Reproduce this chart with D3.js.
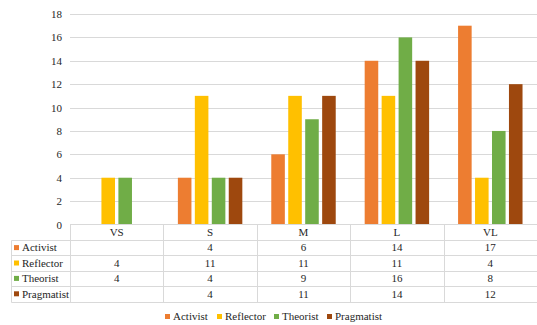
<!DOCTYPE html>
<html>
<head>
<meta charset="utf-8">
<script src="https://cdn.jsdelivr.net/npm/d3@7"></script>
<style>
  html, body { margin: 0; padding: 0; background: #fff; }
  svg text { font-family: 'Liberation Serif', 'Times New Roman', 'DejaVu Serif', serif; }
</style>
</head>
<body>
<svg id="chart" width="537" height="325" style="display:block"></svg>
<script>
// Category groups along the x axis
const categories = ["VS", "S", "M", "L", "VL"];
// Learning-style series and their values per category (null = no value)
const seriesNames = ["Activist", "Reflector", "Theorist", "Pragmatist"];
const activist   = [null, 4, 6, 14, 17];
const reflector  = [4, 11, 11, 11, 4];
const theorist   = [4, 4, 9, 16, 8];
const pragmatist = [null, 4, 11, 14, 12];
const yTicks = [0, 2, 4, 6, 8, 10, 12, 14, 16, 18];
const colors = ["#ED7D31", "#FFC000", "#70AD47", "#9E480E"];

const seriesValues = [activist, reflector, theorist, pragmatist];

const FONT = "'Liberation Serif', 'Times New Roman', 'DejaVu Serif', serif";
const svg = d3.select("#chart").attr("font-family", FONT);
const plotLeft = 70, plotRight = 537, plotTop = 14, plotBottom = 224.5;
const gridColor = "#D9D9D9";
const textColor = "#262626";

const x0 = d3.scaleBand().domain(categories).range([plotLeft, plotRight]);
const bw = x0.bandwidth();
const x1 = d3.scaleBand().domain(seriesNames)
  .range([bw * 0.155, bw * 0.845]).paddingInner(0.2);
const y = d3.scaleLinear().domain([0, 18]).range([plotBottom, plotTop]);

// Horizontal gridlines
svg.append("g").selectAll("line").data(yTicks.filter(d => d > 0)).join("line")
  .attr("x1", plotLeft).attr("x2", plotRight)
  .attr("y1", d => Math.round(y(d)) + 0.5).attr("y2", d => Math.round(y(d)) + 0.5)
  .attr("stroke", gridColor).attr("stroke-width", 1);

// Y axis labels
const yAxis = d3.axisLeft(y).tickValues(yTicks).tickSize(0).tickPadding(8);
const yg = svg.append("g").attr("transform", `translate(${plotLeft},0)`).call(yAxis)
  .attr("font-family", FONT);
yg.select(".domain").remove();
yg.selectAll("text").attr("font-size", 11).attr("fill", textColor);

// Bars
const groups = svg.append("g").selectAll("g").data(categories).join("g")
  .attr("transform", d => `translate(${x0(d)},0)`);
groups.selectAll("rect")
  .data((c, ci) => seriesNames.map((s, si) => ({ s, si, v: seriesValues[si][ci] })))
  .join("rect")
  .filter(d => d.v != null)
  .attr("x", d => x1(d.s))
  .attr("width", x1.bandwidth())
  .attr("y", d => y(d.v))
  .attr("height", d => y(0) - y(d.v))
  .attr("fill", d => colors[d.si]);

// Data table below the plot
const rowH = 15.4;
const headerTop = plotBottom;
const tableLeft = 11.5;
const rowY = i => headerTop + rowH * (i + 1); // top of data row i
const tableBottom = rowY(seriesNames.length);
const tg = svg.append("g").attr("stroke", gridColor).attr("stroke-width", 1);

// horizontal table lines
tg.append("line").attr("x1", plotLeft).attr("x2", plotRight)
  .attr("y1", headerTop).attr("y2", headerTop);
for (let i = 0; i <= seriesNames.length; i++) {
  const yy = Math.round(rowY(i)) + 0.5;
  tg.append("line").attr("x1", tableLeft).attr("x2", plotRight)
    .attr("y1", yy).attr("y2", yy);
}
// vertical table lines
tg.append("line").attr("x1", tableLeft).attr("x2", tableLeft)
  .attr("y1", Math.round(rowY(0)) + 0.5).attr("y2", Math.round(tableBottom) + 0.5);
categories.forEach(c => {
  const xx = Math.round(x0(c)) + 0.5;
  tg.append("line").attr("x1", xx).attr("x2", xx)
    .attr("y1", headerTop).attr("y2", Math.round(tableBottom) + 0.5);
});

// header labels
svg.append("g").selectAll("text").data(categories).join("text")
  .attr("x", d => x0(d) + bw / 2).attr("y", headerTop + rowH / 2)
  .attr("dy", "0.35em").attr("text-anchor", "middle")
  .attr("font-size", 11).attr("fill", textColor).text(d => d);

// row labels with swatches
seriesNames.forEach((s, si) => {
  const top = rowY(si);
  svg.append("rect").attr("x", 14).attr("y", top + rowH / 2 - 2.5)
    .attr("width", 5).attr("height", 5).attr("fill", colors[si]);
  svg.append("text").attr("x", 22).attr("y", top + rowH / 2).attr("dy", "0.35em")
    .attr("font-size", 11).attr("fill", textColor).text(s);
  svg.append("g").selectAll("text")
    .data(categories.map((c, ci) => ({ c, v: seriesValues[si][ci] })).filter(d => d.v != null))
    .join("text")
    .attr("x", d => x0(d.c) + bw / 2).attr("y", top + rowH / 2).attr("dy", "0.35em")
    .attr("text-anchor", "middle").attr("font-size", 11).attr("fill", textColor)
    .text(d => d.v);
});

// Bottom legend
const legendX = [165, 217, 274, 327];
const lg = svg.append("g");
seriesNames.forEach((s, si) => {
  lg.append("rect").attr("x", legendX[si]).attr("y", 314).attr("width", 5).attr("height", 5)
    .attr("fill", colors[si]);
  lg.append("text").attr("x", legendX[si] + 8).attr("y", 316.5).attr("dy", "0.35em")
    .attr("font-size", 11).attr("fill", textColor).text(s);
});
</script>
</body>
</html>
